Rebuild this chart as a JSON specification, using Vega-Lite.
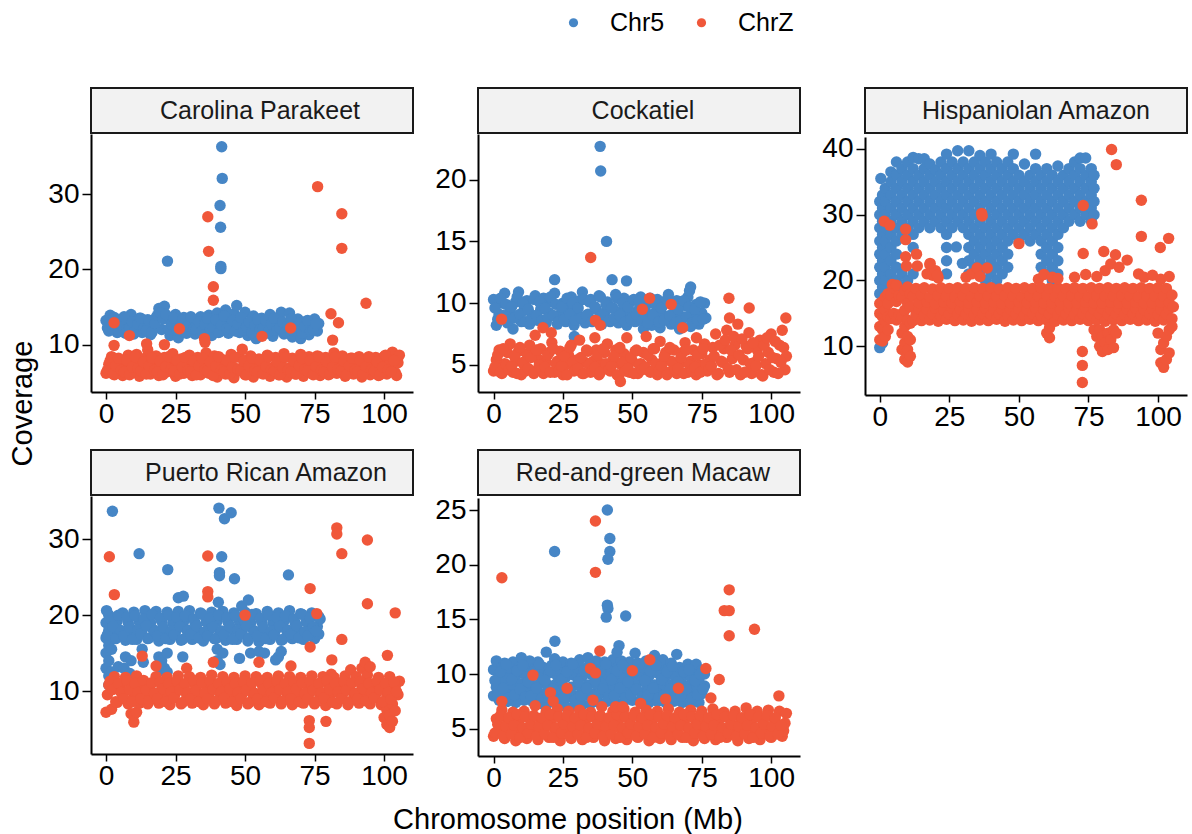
{
"$schema":"https://vega.github.io/schema/vega-lite/v6.json",
"background":"white",
"padding":{"left":8,"top":10,"right":5,"bottom":5},
"config":{
"font":"Liberation Sans",
"view":{"stroke":null},
"circle":{"size":130,"opacity":1},
"range":{"category":["#4686c6","#f0573a"]},
"axis":{"grid":false,"domainColor":"black","domainWidth":2,"tickColor":"black","tickWidth":1.5,"labelColor":"black","labelFontSize":28,"labelFont":"Liberation Sans"},
"axisX":{"tickSize":7,"labelPadding":1},
"axisY":{"tickSize":9,"labelPadding":3},
"title":{"fontWeight":"normal","fontSize":29,"color":"black","font":"Liberation Sans"},
"legend":{"orient":"none","legendX":470,"legendY":-78,"direction":"horizontal","labelFontSize":25,"labelColor":"black","symbolType":"circle","symbolSize":85,"symbolStrokeWidth":0,"labelOffset":24,"columnPadding":24}
},
"datasets":{
"strips":[{"id":"CP","name":"Carolina Parakeet"},{"id":"CK","name":"Cockatiel"},{"id":"HA","name":"Hispaniolan Amazon"},{"id":"PR","name":"Puerto Rican Amazon"},{"id":"MC","name":"Red-and-green Macaw"}],
"CP5":[{"x":0,"y":13.2},{"x":0.5,"y":12.2},{"x":1,"y":11.8},{"x":1.5,"y":13.9},{"x":2,"y":12.6},{"x":3,"y":13.6},{"x":4,"y":11.6},{"x":5,"y":12.5},{"x":6,"y":13.4},{"x":7,"y":11.5},{"x":8,"y":12.8},{"x":9,"y":14.0},{"x":10,"y":11.4},{"x":11,"y":12.4},{"x":12,"y":13.5},{"x":13,"y":11.6},{"x":14,"y":12.7},{"x":15,"y":13.3},{"x":16,"y":11.3},{"x":17,"y":12.4},{"x":18,"y":13.6},{"x":19,"y":14.8},{"x":20,"y":12.0},{"x":21,"y":15.1},{"x":22,"y":13.5},{"x":23,"y":11.2},{"x":24,"y":12.6},{"x":25,"y":14.0},{"x":26,"y":10.9},{"x":27,"y":12.3},{"x":28,"y":13.6},{"x":29,"y":11.5},{"x":30,"y":12.7},{"x":31,"y":13.3},{"x":32,"y":11.4},{"x":33,"y":12.4},{"x":34,"y":13.7},{"x":35,"y":11.8},{"x":36,"y":12.9},{"x":37,"y":13.9},{"x":38,"y":11.2},{"x":39,"y":12.6},{"x":40,"y":14.2},{"x":41,"y":11.7},{"x":42,"y":13.0},{"x":43,"y":14.6},{"x":44,"y":11.5},{"x":45,"y":12.8},{"x":46,"y":14.1},{"x":47,"y":15.2},{"x":48,"y":11.6},{"x":49,"y":13.0},{"x":50,"y":14.3},{"x":51,"y":11.2},{"x":52,"y":12.5},{"x":53,"y":13.8},{"x":54,"y":10.8},{"x":55,"y":12.2},{"x":56,"y":13.5},{"x":57,"y":11.4},{"x":58,"y":12.6},{"x":59,"y":14.0},{"x":60,"y":11.1},{"x":61,"y":12.3},{"x":62,"y":13.6},{"x":63,"y":14.3},{"x":64,"y":11.4},{"x":65,"y":12.8},{"x":66,"y":14.2},{"x":67,"y":11.0},{"x":68,"y":12.2},{"x":69,"y":13.4},{"x":70,"y":10.8},{"x":71,"y":11.9},{"x":72,"y":13.1},{"x":73,"y":11.3},{"x":74,"y":12.4},{"x":75,"y":13.4},{"x":76,"y":11.8},{"x":76.5,"y":12.8},{"x":2.5,"y":12.1},{"x":3.5,"y":13.1},{"x":4.5,"y":11.7},{"x":5.5,"y":12.6},{"x":6.5,"y":13.7},{"x":7.5,"y":12.0},{"x":8.5,"y":12.2},{"x":9.5,"y":13.0},{"x":10.5,"y":11.8},{"x":11.5,"y":12.7},{"x":12.5,"y":13.5},{"x":13.5,"y":12.1},{"x":14.5,"y":11.9},{"x":15.5,"y":13.2},{"x":16.5,"y":11.6},{"x":17.5,"y":12.8},{"x":18.5,"y":13.9},{"x":19.5,"y":14.2},{"x":20.5,"y":13.4},{"x":21.5,"y":14.0},{"x":22.5,"y":12.0},{"x":23.5,"y":12.7},{"x":24.5,"y":13.5},{"x":25.5,"y":11.9},{"x":26.5,"y":12.2},{"x":27.5,"y":13.2},{"x":28.5,"y":11.6},{"x":29.5,"y":12.5},{"x":30.5,"y":13.7},{"x":31.5,"y":12.1},{"x":32.5,"y":12.0},{"x":33.5,"y":13.0},{"x":34.5,"y":11.8},{"x":35.5,"y":12.7},{"x":36.5,"y":13.5},{"x":37.5,"y":12.0},{"x":38.5,"y":12.3},{"x":39.5,"y":13.3},{"x":40.5,"y":11.6},{"x":41.5,"y":12.6},{"x":42.5,"y":13.8},{"x":43.5,"y":12.1},{"x":44.5,"y":12.2},{"x":45.5,"y":13.2},{"x":46.5,"y":11.8},{"x":47.5,"y":12.7},{"x":48.5,"y":13.6},{"x":49.5,"y":11.9},{"x":50.5,"y":12.3},{"x":51.5,"y":13.0},{"x":52.5,"y":11.6},{"x":53.5,"y":12.5},{"x":54.5,"y":13.4},{"x":55.5,"y":12.0},{"x":56.5,"y":12.1},{"x":57.5,"y":13.2},{"x":58.5,"y":11.7},{"x":59.5,"y":12.7},{"x":60.5,"y":13.5},{"x":61.5,"y":11.9},{"x":62.5,"y":12.2},{"x":63.5,"y":13.0},{"x":64.5,"y":11.7},{"x":65.5,"y":12.6},{"x":66.5,"y":13.4},{"x":67.5,"y":11.8},{"x":68.5,"y":11.9},{"x":69.5,"y":12.8},{"x":70.5,"y":11.5},{"x":71.5,"y":12.4},{"x":72.5,"y":13.2},{"x":73.5,"y":11.8},{"x":74.5,"y":11.9},{"x":75.5,"y":12.8},{"x":22.1,"y":21.1},{"x":41.0,"y":28.5},{"x":41.2,"y":25.6},{"x":41.3,"y":20.4},{"x":41.3,"y":20.1},{"x":41.8,"y":32.1},{"x":41.6,"y":36.3}],
"CPZ":[{"x":0,"y":6.2},{"x":1,"y":7.4},{"x":2,"y":8.4},{"x":3,"y":6.0},{"x":4,"y":6.9},{"x":5,"y":7.9},{"x":6,"y":5.9},{"x":7,"y":7.2},{"x":8,"y":8.6},{"x":9,"y":6.3},{"x":10,"y":7.5},{"x":11,"y":8.7},{"x":12,"y":5.8},{"x":13,"y":6.9},{"x":14,"y":8.2},{"x":15,"y":9.3},{"x":16,"y":6.1},{"x":17,"y":7.3},{"x":18,"y":8.5},{"x":19,"y":5.9},{"x":20,"y":7.0},{"x":21,"y":8.3},{"x":22,"y":6.4},{"x":23,"y":7.6},{"x":24,"y":8.8},{"x":25,"y":5.8},{"x":26,"y":6.9},{"x":27,"y":8.1},{"x":28,"y":6.2},{"x":29,"y":7.4},{"x":30,"y":8.6},{"x":31,"y":5.9},{"x":32,"y":7.1},{"x":33,"y":8.3},{"x":34,"y":6.0},{"x":35,"y":7.4},{"x":36,"y":8.9},{"x":37,"y":6.2},{"x":38,"y":7.3},{"x":39,"y":8.5},{"x":40,"y":5.7},{"x":41,"y":6.8},{"x":42,"y":8.0},{"x":43,"y":6.1},{"x":44,"y":7.5},{"x":45,"y":8.7},{"x":46,"y":5.6},{"x":47,"y":6.8},{"x":48,"y":8.4},{"x":49,"y":9.4},{"x":50,"y":6.0},{"x":51,"y":7.2},{"x":52,"y":8.5},{"x":53,"y":5.7},{"x":54,"y":6.9},{"x":55,"y":8.1},{"x":56,"y":6.2},{"x":57,"y":7.4},{"x":58,"y":8.6},{"x":59,"y":5.8},{"x":60,"y":7.0},{"x":61,"y":8.3},{"x":62,"y":6.0},{"x":63,"y":7.3},{"x":64,"y":8.8},{"x":65,"y":5.7},{"x":66,"y":6.9},{"x":67,"y":8.2},{"x":68,"y":6.1},{"x":69,"y":7.5},{"x":70,"y":8.7},{"x":71,"y":5.8},{"x":72,"y":7.0},{"x":73,"y":8.4},{"x":74,"y":6.2},{"x":75,"y":7.3},{"x":76,"y":8.5},{"x":77,"y":5.9},{"x":78,"y":7.1},{"x":79,"y":8.3},{"x":80,"y":6.0},{"x":81,"y":7.4},{"x":82,"y":8.9},{"x":83,"y":6.2},{"x":84,"y":7.3},{"x":85,"y":8.5},{"x":86,"y":5.8},{"x":87,"y":6.9},{"x":88,"y":8.2},{"x":89,"y":6.1},{"x":90,"y":7.3},{"x":91,"y":8.4},{"x":92,"y":5.7},{"x":93,"y":6.8},{"x":94,"y":7.9},{"x":95,"y":6.0},{"x":96,"y":7.2},{"x":97,"y":8.3},{"x":98,"y":5.9},{"x":99,"y":7.0},{"x":100,"y":8.4},{"x":101,"y":6.1},{"x":102,"y":7.5},{"x":103,"y":9.0},{"x":104,"y":6.3},{"x":104.5,"y":5.9},{"x":105,"y":7.6},{"x":105.5,"y":8.6},{"x":0.5,"y":6.6},{"x":1.5,"y":7.9},{"x":2.5,"y":6.1},{"x":3.5,"y":7.2},{"x":4.5,"y":8.2},{"x":5.5,"y":6.6},{"x":6.5,"y":6.4},{"x":7.5,"y":7.9},{"x":8.5,"y":6.0},{"x":9.5,"y":7.0},{"x":10.5,"y":8.4},{"x":11.5,"y":6.8},{"x":12.5,"y":6.5},{"x":13.5,"y":7.7},{"x":14.5,"y":6.1},{"x":15.5,"y":7.2},{"x":16.5,"y":8.2},{"x":17.5,"y":6.6},{"x":18.5,"y":6.4},{"x":19.5,"y":7.8},{"x":20.5,"y":6.0},{"x":21.5,"y":7.1},{"x":22.5,"y":8.4},{"x":23.5,"y":6.7},{"x":24.5,"y":6.5},{"x":25.5,"y":7.9},{"x":26.5,"y":6.1},{"x":27.5,"y":7.0},{"x":28.5,"y":8.3},{"x":29.5,"y":6.6},{"x":30.5,"y":6.4},{"x":31.5,"y":7.8},{"x":32.5,"y":6.0},{"x":33.5,"y":7.2},{"x":34.5,"y":8.2},{"x":35.5,"y":6.7},{"x":36.5,"y":6.5},{"x":37.5,"y":7.7},{"x":38.5,"y":5.9},{"x":39.5,"y":7.1},{"x":40.5,"y":8.4},{"x":41.5,"y":6.6},{"x":42.5,"y":6.4},{"x":43.5,"y":7.9},{"x":44.5,"y":6.1},{"x":45.5,"y":7.0},{"x":46.5,"y":8.3},{"x":47.5,"y":6.7},{"x":48.5,"y":6.5},{"x":49.5,"y":7.8},{"x":50.5,"y":6.0},{"x":51.5,"y":7.2},{"x":52.5,"y":8.2},{"x":53.5,"y":6.6},{"x":54.5,"y":6.4},{"x":55.5,"y":7.9},{"x":56.5,"y":6.1},{"x":57.5,"y":7.1},{"x":58.5,"y":8.4},{"x":59.5,"y":6.7},{"x":60.5,"y":6.5},{"x":61.5,"y":7.7},{"x":62.5,"y":6.0},{"x":63.5,"y":7.0},{"x":64.5,"y":8.3},{"x":65.5,"y":6.6},{"x":66.5,"y":6.4},{"x":67.5,"y":7.8},{"x":68.5,"y":6.1},{"x":69.5,"y":7.2},{"x":70.5,"y":8.2},{"x":71.5,"y":6.7},{"x":72.5,"y":6.5},{"x":73.5,"y":7.9},{"x":74.5,"y":6.0},{"x":75.5,"y":7.1},{"x":76.5,"y":8.4},{"x":77.5,"y":6.6},{"x":78.5,"y":6.4},{"x":79.5,"y":7.7},{"x":80.5,"y":6.1},{"x":81.5,"y":7.0},{"x":82.5,"y":8.3},{"x":83.5,"y":6.7},{"x":84.5,"y":6.5},{"x":85.5,"y":7.8},{"x":86.5,"y":6.0},{"x":87.5,"y":7.2},{"x":88.5,"y":8.2},{"x":89.5,"y":6.6},{"x":90.5,"y":6.4},{"x":91.5,"y":7.9},{"x":92.5,"y":6.1},{"x":93.5,"y":7.1},{"x":94.5,"y":8.4},{"x":95.5,"y":6.7},{"x":96.5,"y":6.5},{"x":97.5,"y":7.7},{"x":98.5,"y":6.0},{"x":99.5,"y":7.0},{"x":100.5,"y":8.6},{"x":101.5,"y":6.6},{"x":102.5,"y":6.4},{"x":103.5,"y":7.9},{"x":2.9,"y":12.9},{"x":2.9,"y":9.9},{"x":8.4,"y":11.2},{"x":14.6,"y":10.1},{"x":21.0,"y":10.0},{"x":26.4,"y":12.1},{"x":35.4,"y":10.8},{"x":35.6,"y":10.3},{"x":36.6,"y":27.0},{"x":36.9,"y":22.4},{"x":38.6,"y":17.7},{"x":38.6,"y":15.9},{"x":56.1,"y":11.1},{"x":66.4,"y":12.2},{"x":76.1,"y":31.0},{"x":80.9,"y":14.1},{"x":81.5,"y":10.6},{"x":83.6,"y":12.9},{"x":84.8,"y":27.4},{"x":84.8,"y":22.8},{"x":93.5,"y":15.5}],
"CK5":[{"x":0,"y":10.3},{"x":1,"y":8.2},{"x":2,"y":9.1},{"x":3,"y":10.0},{"x":4,"y":10.8},{"x":5,"y":8.4},{"x":6,"y":9.3},{"x":7,"y":7.9},{"x":8,"y":10.1},{"x":9,"y":10.9},{"x":10,"y":8.5},{"x":11,"y":9.4},{"x":12,"y":10.2},{"x":13,"y":8.3},{"x":14,"y":9.0},{"x":15,"y":10.6},{"x":16,"y":8.6},{"x":17,"y":9.5},{"x":18,"y":10.4},{"x":19,"y":8.4},{"x":20,"y":9.2},{"x":21,"y":10.1},{"x":22,"y":10.8},{"x":23,"y":8.3},{"x":24,"y":9.1},{"x":25,"y":10.0},{"x":26,"y":8.5},{"x":27,"y":9.4},{"x":28,"y":10.5},{"x":29,"y":8.2},{"x":30,"y":9.3},{"x":31,"y":10.2},{"x":32,"y":10.9},{"x":33,"y":8.4},{"x":34,"y":9.1},{"x":35,"y":10.3},{"x":36,"y":8.6},{"x":37,"y":9.5},{"x":38,"y":10.6},{"x":39,"y":8.3},{"x":40,"y":9.2},{"x":41,"y":10.1},{"x":42,"y":8.5},{"x":43,"y":9.6},{"x":44,"y":10.7},{"x":45,"y":8.4},{"x":46,"y":9.3},{"x":47,"y":10.4},{"x":48,"y":8.2},{"x":49,"y":9.0},{"x":50,"y":10.2},{"x":51,"y":8.5},{"x":52,"y":9.4},{"x":53,"y":10.5},{"x":54,"y":7.9},{"x":55,"y":9.1},{"x":56,"y":10.0},{"x":57,"y":8.2},{"x":58,"y":9.2},{"x":59,"y":10.3},{"x":60,"y":8.0},{"x":61,"y":9.0},{"x":62,"y":10.1},{"x":63,"y":10.7},{"x":64,"y":8.3},{"x":65,"y":9.2},{"x":66,"y":10.2},{"x":67,"y":7.9},{"x":68,"y":8.9},{"x":69,"y":9.8},{"x":70,"y":10.5},{"x":71,"y":8.1},{"x":72,"y":9.0},{"x":73,"y":9.9},{"x":74,"y":8.3},{"x":75,"y":9.2},{"x":76,"y":10.0},{"x":76.5,"y":8.8},{"x":0.5,"y":9.6},{"x":1.5,"y":8.7},{"x":2.5,"y":10.4},{"x":3.5,"y":9.0},{"x":4.5,"y":9.9},{"x":5.5,"y":8.6},{"x":6.5,"y":9.7},{"x":7.5,"y":8.8},{"x":8.5,"y":10.5},{"x":9.5,"y":9.1},{"x":10.5,"y":10.0},{"x":11.5,"y":8.5},{"x":12.5,"y":9.5},{"x":13.5,"y":8.7},{"x":14.5,"y":10.3},{"x":15.5,"y":9.0},{"x":16.5,"y":10.1},{"x":17.5,"y":8.6},{"x":18.5,"y":9.6},{"x":19.5,"y":8.8},{"x":20.5,"y":10.5},{"x":21.5,"y":9.0},{"x":22.5,"y":9.9},{"x":23.5,"y":8.5},{"x":24.5,"y":9.7},{"x":25.5,"y":8.7},{"x":26.5,"y":10.4},{"x":27.5,"y":9.1},{"x":28.5,"y":10.0},{"x":29.5,"y":8.6},{"x":30.5,"y":9.6},{"x":31.5,"y":8.8},{"x":32.5,"y":10.3},{"x":33.5,"y":9.0},{"x":34.5,"y":10.1},{"x":35.5,"y":8.5},{"x":36.5,"y":9.7},{"x":37.5,"y":8.7},{"x":38.5,"y":10.5},{"x":39.5,"y":9.1},{"x":40.5,"y":9.9},{"x":41.5,"y":8.6},{"x":42.5,"y":9.6},{"x":43.5,"y":8.8},{"x":44.5,"y":10.4},{"x":45.5,"y":9.0},{"x":46.5,"y":10.0},{"x":47.5,"y":8.5},{"x":48.5,"y":9.7},{"x":49.5,"y":8.7},{"x":50.5,"y":10.3},{"x":51.5,"y":9.1},{"x":52.5,"y":10.1},{"x":53.5,"y":8.6},{"x":54.5,"y":9.5},{"x":55.5,"y":8.4},{"x":56.5,"y":10.4},{"x":57.5,"y":9.0},{"x":58.5,"y":9.9},{"x":59.5,"y":8.5},{"x":60.5,"y":9.6},{"x":61.5,"y":8.6},{"x":62.5,"y":10.3},{"x":63.5,"y":9.0},{"x":64.5,"y":10.0},{"x":65.5,"y":8.4},{"x":66.5,"y":9.5},{"x":67.5,"y":8.6},{"x":68.5,"y":10.2},{"x":69.5,"y":8.9},{"x":70.5,"y":9.7},{"x":71.5,"y":8.4},{"x":72.5,"y":9.5},{"x":73.5,"y":8.6},{"x":74.5,"y":10.1},{"x":75.5,"y":8.7},{"x":38.4,"y":22.7},{"x":38.6,"y":20.7},{"x":40.7,"y":15.0},{"x":22.0,"y":11.9},{"x":42.7,"y":11.9},{"x":47.9,"y":11.8},{"x":71.0,"y":11.3},{"x":70.6,"y":11.0},{"x":29.1,"y":7.3}],
"CKZ":[{"x":0,"y":4.5},{"x":1,"y":5.4},{"x":2,"y":6.2},{"x":3,"y":4.3},{"x":4,"y":5.1},{"x":5,"y":6.0},{"x":6,"y":6.7},{"x":7,"y":4.4},{"x":8,"y":5.3},{"x":9,"y":6.1},{"x":10,"y":4.2},{"x":11,"y":5.0},{"x":12,"y":5.9},{"x":13,"y":6.6},{"x":14,"y":4.5},{"x":15,"y":7.4},{"x":16,"y":5.5},{"x":17,"y":6.3},{"x":18,"y":4.3},{"x":19,"y":5.2},{"x":20,"y":6.0},{"x":21,"y":6.8},{"x":22,"y":4.4},{"x":23,"y":5.3},{"x":24,"y":6.1},{"x":25,"y":4.2},{"x":26,"y":5.0},{"x":27,"y":5.8},{"x":28,"y":6.6},{"x":29,"y":4.5},{"x":30,"y":5.4},{"x":31,"y":7.0},{"x":32,"y":4.3},{"x":33,"y":5.2},{"x":34,"y":6.1},{"x":35,"y":4.4},{"x":36,"y":5.3},{"x":37,"y":6.2},{"x":38,"y":4.2},{"x":39,"y":5.1},{"x":40,"y":6.0},{"x":41,"y":6.7},{"x":42,"y":4.5},{"x":43,"y":5.4},{"x":44,"y":6.2},{"x":45,"y":4.1},{"x":46,"y":5.0},{"x":47,"y":5.9},{"x":48,"y":7.2},{"x":49,"y":4.4},{"x":50,"y":5.3},{"x":51,"y":6.1},{"x":52,"y":4.3},{"x":53,"y":5.1},{"x":54,"y":6.0},{"x":55,"y":7.3},{"x":56,"y":4.5},{"x":57,"y":5.4},{"x":58,"y":6.3},{"x":59,"y":4.2},{"x":60,"y":6.9},{"x":61,"y":5.2},{"x":62,"y":6.0},{"x":63,"y":4.4},{"x":64,"y":5.3},{"x":65,"y":6.2},{"x":66,"y":4.3},{"x":67,"y":5.1},{"x":68,"y":6.0},{"x":69,"y":6.8},{"x":70,"y":4.4},{"x":71,"y":5.3},{"x":72,"y":6.2},{"x":73,"y":4.2},{"x":74,"y":5.0},{"x":75,"y":5.9},{"x":76,"y":6.7},{"x":77,"y":4.5},{"x":78,"y":5.4},{"x":79,"y":6.4},{"x":80,"y":7.5},{"x":81,"y":4.3},{"x":82,"y":5.3},{"x":83,"y":6.3},{"x":84,"y":7.8},{"x":85,"y":4.4},{"x":86,"y":5.5},{"x":87,"y":6.6},{"x":88,"y":8.3},{"x":89,"y":4.2},{"x":90,"y":5.4},{"x":91,"y":6.5},{"x":92,"y":7.6},{"x":93,"y":4.3},{"x":94,"y":5.2},{"x":95,"y":6.2},{"x":96,"y":7.0},{"x":97,"y":4.1},{"x":98,"y":5.1},{"x":99,"y":6.0},{"x":100,"y":7.5},{"x":101,"y":4.4},{"x":102,"y":5.5},{"x":103,"y":6.6},{"x":104,"y":7.8},{"x":104.5,"y":6.4},{"x":105,"y":4.6},{"x":105.5,"y":5.7},{"x":0.5,"y":4.8},{"x":1.5,"y":5.8},{"x":2.5,"y":4.4},{"x":3.5,"y":6.3},{"x":4.5,"y":5.0},{"x":5.5,"y":4.6},{"x":6.5,"y":4.9},{"x":7.5,"y":5.7},{"x":8.5,"y":4.3},{"x":9.5,"y":6.4},{"x":10.5,"y":5.2},{"x":11.5,"y":4.5},{"x":12.5,"y":4.7},{"x":13.5,"y":5.6},{"x":14.5,"y":4.3},{"x":15.5,"y":6.2},{"x":16.5,"y":5.0},{"x":17.5,"y":4.6},{"x":18.5,"y":4.8},{"x":19.5,"y":5.8},{"x":20.5,"y":4.4},{"x":21.5,"y":6.3},{"x":22.5,"y":5.1},{"x":23.5,"y":4.5},{"x":24.5,"y":4.9},{"x":25.5,"y":5.7},{"x":26.5,"y":4.2},{"x":27.5,"y":6.4},{"x":28.5,"y":5.2},{"x":29.5,"y":4.6},{"x":30.5,"y":4.7},{"x":31.5,"y":5.6},{"x":32.5,"y":4.3},{"x":33.5,"y":6.2},{"x":34.5,"y":5.0},{"x":35.5,"y":4.5},{"x":36.5,"y":4.8},{"x":37.5,"y":5.8},{"x":38.5,"y":4.4},{"x":39.5,"y":6.3},{"x":40.5,"y":5.1},{"x":41.5,"y":4.6},{"x":42.5,"y":4.9},{"x":43.5,"y":5.7},{"x":44.5,"y":4.2},{"x":45.5,"y":6.4},{"x":46.5,"y":5.2},{"x":47.5,"y":4.5},{"x":48.5,"y":4.7},{"x":49.5,"y":5.6},{"x":50.5,"y":4.3},{"x":51.5,"y":6.2},{"x":52.5,"y":5.0},{"x":53.5,"y":4.6},{"x":54.5,"y":4.8},{"x":55.5,"y":5.8},{"x":56.5,"y":4.4},{"x":57.5,"y":6.3},{"x":58.5,"y":5.1},{"x":59.5,"y":4.5},{"x":60.5,"y":4.9},{"x":61.5,"y":5.7},{"x":62.5,"y":4.2},{"x":63.5,"y":6.4},{"x":64.5,"y":5.2},{"x":65.5,"y":4.6},{"x":66.5,"y":4.7},{"x":67.5,"y":5.6},{"x":68.5,"y":4.3},{"x":69.5,"y":6.2},{"x":70.5,"y":5.0},{"x":71.5,"y":4.5},{"x":72.5,"y":4.8},{"x":73.5,"y":5.8},{"x":74.5,"y":4.4},{"x":75.5,"y":6.3},{"x":76.5,"y":5.1},{"x":77.5,"y":4.6},{"x":78.5,"y":4.9},{"x":79.5,"y":5.7},{"x":80.5,"y":4.2},{"x":81.5,"y":6.6},{"x":82.5,"y":5.2},{"x":83.5,"y":7.0},{"x":84.5,"y":4.7},{"x":85.5,"y":6.2},{"x":86.5,"y":7.3},{"x":87.5,"y":4.6},{"x":88.5,"y":5.8},{"x":89.5,"y":7.1},{"x":90.5,"y":4.4},{"x":91.5,"y":6.3},{"x":92.5,"y":5.1},{"x":93.5,"y":6.8},{"x":94.5,"y":4.9},{"x":95.5,"y":5.7},{"x":96.5,"y":4.2},{"x":97.5,"y":6.6},{"x":98.5,"y":7.2},{"x":99.5,"y":4.6},{"x":100.5,"y":5.6},{"x":101.5,"y":6.9},{"x":102.5,"y":4.3},{"x":103.5,"y":5.2},{"x":35.0,"y":13.7},{"x":2.9,"y":8.7},{"x":36.7,"y":8.6},{"x":38.4,"y":8.2},{"x":56.2,"y":10.4},{"x":53.6,"y":9.5},{"x":64.0,"y":9.9},{"x":84.8,"y":10.4},{"x":92.1,"y":9.6},{"x":105.3,"y":8.8},{"x":85.0,"y":8.8},{"x":17.8,"y":8.0},{"x":20.8,"y":7.6},{"x":68.1,"y":8.0},{"x":73.1,"y":7.2},{"x":45.7,"y":3.65},{"x":36.5,"y":7.2}],
"HA5":[{"x":0,"y":9.8},{"x":0,"y":18},{"x":0,"y":20},{"x":0,"y":22},{"x":0,"y":24},{"x":0,"y":26},{"x":0,"y":28},{"x":0,"y":30},{"x":0,"y":32},{"x":0.4,"y":35.5},{"x":1,"y":10.5},{"x":1,"y":19},{"x":1,"y":21},{"x":1,"y":23},{"x":1,"y":25},{"x":1,"y":27},{"x":1,"y":29},{"x":1,"y":31},{"x":1,"y":33},{"x":2,"y":18},{"x":2,"y":20},{"x":2,"y":22},{"x":2,"y":24},{"x":2,"y":26},{"x":2,"y":28},{"x":2,"y":30},{"x":2,"y":32},{"x":2,"y":34},{"x":4,"y":19},{"x":4,"y":21},{"x":4,"y":23},{"x":4,"y":25},{"x":4,"y":27},{"x":4,"y":29},{"x":4,"y":31},{"x":4,"y":33},{"x":4,"y":35},{"x":4,"y":36.5},{"x":6,"y":20},{"x":6,"y":22},{"x":6,"y":24},{"x":6,"y":26},{"x":6,"y":28},{"x":6,"y":30},{"x":6,"y":32},{"x":6,"y":34},{"x":6,"y":36},{"x":6,"y":38},{"x":8,"y":19},{"x":8,"y":21},{"x":8,"y":27},{"x":8,"y":29},{"x":8,"y":31},{"x":8,"y":33},{"x":8,"y":35},{"x":8,"y":37},{"x":10,"y":20},{"x":10,"y":28},{"x":10,"y":30},{"x":10,"y":32},{"x":10,"y":34},{"x":10,"y":36},{"x":10,"y":38},{"x":12,"y":21},{"x":12,"y":25},{"x":12,"y":27},{"x":12,"y":29},{"x":12,"y":31},{"x":12,"y":33},{"x":12,"y":35},{"x":12,"y":37},{"x":12,"y":38.7},{"x":14,"y":28},{"x":14,"y":30},{"x":14,"y":32},{"x":14,"y":34},{"x":14,"y":36},{"x":14,"y":38.5},{"x":16,"y":29},{"x":16,"y":31},{"x":16,"y":33},{"x":16,"y":35},{"x":16,"y":37},{"x":16,"y":38.5},{"x":18,"y":28},{"x":18,"y":30},{"x":18,"y":32},{"x":18,"y":34},{"x":18,"y":36},{"x":18,"y":37.7},{"x":20,"y":29},{"x":20,"y":31},{"x":20,"y":33},{"x":20,"y":35},{"x":20,"y":36.8},{"x":22,"y":28},{"x":22,"y":30},{"x":22,"y":32},{"x":22,"y":34},{"x":22,"y":36},{"x":22,"y":38},{"x":24,"y":21},{"x":24,"y":23},{"x":24,"y":25},{"x":24,"y":27},{"x":24,"y":29},{"x":24,"y":31},{"x":24,"y":33},{"x":24,"y":35},{"x":24,"y":37},{"x":24,"y":39.2},{"x":26,"y":28},{"x":26,"y":30},{"x":26,"y":32},{"x":26,"y":34},{"x":26,"y":36},{"x":26,"y":38},{"x":28,"y":29},{"x":28,"y":31},{"x":28,"y":33},{"x":28,"y":35},{"x":28,"y":37},{"x":28,"y":39.7},{"x":30,"y":28},{"x":30,"y":30},{"x":30,"y":32},{"x":30,"y":34},{"x":30,"y":36},{"x":30,"y":38},{"x":32,"y":21},{"x":32,"y":23},{"x":32,"y":25},{"x":32,"y":27},{"x":32,"y":29},{"x":32,"y":31},{"x":32,"y":33},{"x":32,"y":35},{"x":32,"y":37},{"x":32,"y":39.7},{"x":34,"y":22},{"x":34,"y":24},{"x":34,"y":26},{"x":34,"y":28},{"x":34,"y":30},{"x":34,"y":32},{"x":34,"y":34},{"x":34,"y":36},{"x":34,"y":38},{"x":36,"y":21},{"x":36,"y":23},{"x":36,"y":25},{"x":36,"y":27},{"x":36,"y":29},{"x":36,"y":31},{"x":36,"y":33},{"x":36,"y":35},{"x":36,"y":37},{"x":36,"y":39},{"x":38,"y":20},{"x":38,"y":22},{"x":38,"y":24},{"x":38,"y":26},{"x":38,"y":28},{"x":38,"y":30},{"x":38,"y":32},{"x":38,"y":34},{"x":38,"y":36},{"x":38,"y":38},{"x":40,"y":21},{"x":40,"y":23},{"x":40,"y":25},{"x":40,"y":27},{"x":40,"y":29},{"x":40,"y":31},{"x":40,"y":33},{"x":40,"y":35},{"x":40,"y":37},{"x":40,"y":39.2},{"x":42,"y":20},{"x":42,"y":22},{"x":42,"y":24},{"x":42,"y":26},{"x":42,"y":28},{"x":42,"y":30},{"x":42,"y":32},{"x":42,"y":34},{"x":42,"y":36},{"x":42,"y":38},{"x":44,"y":21},{"x":44,"y":23},{"x":44,"y":25},{"x":44,"y":27},{"x":44,"y":29},{"x":44,"y":31},{"x":44,"y":33},{"x":44,"y":35},{"x":44,"y":37},{"x":46,"y":22},{"x":46,"y":24},{"x":46,"y":26},{"x":46,"y":28},{"x":46,"y":30},{"x":46,"y":32},{"x":46,"y":34},{"x":46,"y":36},{"x":46,"y":38},{"x":48,"y":27},{"x":48,"y":29},{"x":48,"y":31},{"x":48,"y":33},{"x":48,"y":35},{"x":48,"y":37},{"x":48,"y":39.2},{"x":50,"y":26},{"x":50,"y":28},{"x":50,"y":30},{"x":50,"y":32},{"x":50,"y":34},{"x":50,"y":36},{"x":52,"y":27},{"x":52,"y":29},{"x":52,"y":31},{"x":52,"y":33},{"x":52,"y":35},{"x":52,"y":37.7},{"x":54,"y":26},{"x":54,"y":28},{"x":54,"y":30},{"x":54,"y":32},{"x":54,"y":34},{"x":54,"y":36},{"x":56,"y":27},{"x":56,"y":29},{"x":56,"y":31},{"x":56,"y":33},{"x":56,"y":35},{"x":56,"y":37},{"x":56,"y":39.2},{"x":58,"y":22},{"x":58,"y":24},{"x":58,"y":26},{"x":58,"y":28},{"x":58,"y":30},{"x":58,"y":32},{"x":58,"y":34},{"x":58,"y":36},{"x":60,"y":21},{"x":60,"y":23},{"x":60,"y":25},{"x":60,"y":27},{"x":60,"y":29},{"x":60,"y":31},{"x":60,"y":33},{"x":60,"y":35},{"x":60,"y":37},{"x":62,"y":20},{"x":62,"y":22},{"x":62,"y":24},{"x":62,"y":26},{"x":62,"y":28},{"x":62,"y":30},{"x":62,"y":32},{"x":62,"y":34},{"x":62,"y":36},{"x":64,"y":21},{"x":64,"y":23},{"x":64,"y":25},{"x":64,"y":27},{"x":64,"y":29},{"x":64,"y":31},{"x":64,"y":33},{"x":64,"y":35},{"x":64,"y":37.4},{"x":66,"y":28},{"x":66,"y":30},{"x":66,"y":32},{"x":66,"y":34},{"x":66,"y":36},{"x":68,"y":29},{"x":68,"y":31},{"x":68,"y":33},{"x":68,"y":35},{"x":68,"y":37},{"x":70,"y":30},{"x":70,"y":32},{"x":70,"y":34},{"x":70,"y":36},{"x":70,"y":38},{"x":72,"y":29},{"x":72,"y":31},{"x":72,"y":33},{"x":72,"y":35},{"x":72,"y":37},{"x":72,"y":38.6},{"x":74,"y":30},{"x":74,"y":32},{"x":74,"y":34},{"x":74,"y":36},{"x":74,"y":38.6},{"x":76,"y":29},{"x":76,"y":31},{"x":76,"y":33},{"x":76,"y":35},{"x":76,"y":37},{"x":77,"y":30},{"x":77,"y":32},{"x":77,"y":34},{"x":77,"y":36},{"x":27.5,"y":25.1},{"x":29.7,"y":22.6}],
"HAZ":[{"x":0,"y":11.0},{"x":0,"y":13.0},{"x":0,"y":15.0},{"x":0,"y":16.5},{"x":1,"y":10.8},{"x":1,"y":12.5},{"x":1,"y":14.5},{"x":1,"y":16.8},{"x":2,"y":11.5},{"x":2,"y":13.8},{"x":2,"y":15.5},{"x":2,"y":17.5},{"x":3,"y":12.5},{"x":3,"y":14.5},{"x":3,"y":16.5},{"x":3,"y":18.0},{"x":4,"y":14.2},{"x":4,"y":17.8},{"x":4.5,"y":19.4},{"x":5,"y":15.0},{"x":5,"y":18.9},{"x":6,"y":14.0},{"x":6,"y":16.8},{"x":6,"y":19.3},{"x":7,"y":14.8},{"x":7,"y":17.7},{"x":8,"y":9.5},{"x":8,"y":12.0},{"x":8,"y":14.5},{"x":8,"y":17.5},{"x":9,"y":8.0},{"x":9,"y":10.5},{"x":9,"y":13.0},{"x":9,"y":15.5},{"x":9,"y":18.5},{"x":10,"y":7.6},{"x":10,"y":9.5},{"x":10,"y":11.5},{"x":10,"y":14.0},{"x":10,"y":16.5},{"x":10,"y":19.0},{"x":11,"y":8.5},{"x":11,"y":11.0},{"x":11,"y":13.5},{"x":11,"y":16.0},{"x":11,"y":18.0},{"x":12,"y":13.9},{"x":12,"y":17.6},{"x":13,"y":14.8},{"x":13,"y":18.8},{"x":14,"y":15.7},{"x":14,"y":16.6},{"x":15,"y":13.9},{"x":15,"y":17.8},{"x":16,"y":14.7},{"x":16,"y":18.9},{"x":17,"y":15.6},{"x":17,"y":16.7},{"x":17,"y":21.0},{"x":18,"y":14.0},{"x":18,"y":17.5},{"x":18,"y":22.4},{"x":19,"y":14.9},{"x":19,"y":18.7},{"x":19,"y":20.8},{"x":20,"y":15.8},{"x":20,"y":16.5},{"x":20,"y":21.5},{"x":21,"y":13.8},{"x":21,"y":17.7},{"x":21,"y":20.4},{"x":22,"y":14.6},{"x":22,"y":18.9},{"x":23,"y":15.5},{"x":23,"y":16.7},{"x":24,"y":14.1},{"x":24,"y":17.6},{"x":25,"y":14.9},{"x":25,"y":18.8},{"x":26,"y":15.8},{"x":26,"y":16.6},{"x":27,"y":13.9},{"x":27,"y":17.5},{"x":28,"y":14.8},{"x":28,"y":18.9},{"x":29,"y":15.6},{"x":29,"y":16.8},{"x":30,"y":14.0},{"x":30,"y":17.7},{"x":31,"y":14.9},{"x":31,"y":18.8},{"x":31,"y":20.5},{"x":32,"y":15.7},{"x":32,"y":16.6},{"x":33,"y":13.8},{"x":33,"y":17.6},{"x":33,"y":21.0},{"x":34,"y":14.7},{"x":34,"y":18.9},{"x":35,"y":15.6},{"x":35,"y":16.7},{"x":35,"y":21.9},{"x":36,"y":14.0},{"x":36,"y":17.6},{"x":36,"y":20.6},{"x":37,"y":14.9},{"x":37,"y":18.8},{"x":38,"y":15.8},{"x":38,"y":16.6},{"x":39,"y":13.9},{"x":39,"y":17.7},{"x":40,"y":14.8},{"x":40,"y":18.9},{"x":41,"y":15.7},{"x":41,"y":16.7},{"x":42,"y":14.1},{"x":42,"y":17.6},{"x":43,"y":14.9},{"x":43,"y":18.7},{"x":44,"y":15.6},{"x":44,"y":16.5},{"x":45,"y":13.8},{"x":45,"y":17.7},{"x":46,"y":14.7},{"x":46,"y":18.9},{"x":47,"y":15.6},{"x":47,"y":16.6},{"x":48,"y":14.0},{"x":48,"y":17.6},{"x":49,"y":14.9},{"x":49,"y":18.8},{"x":50,"y":15.7},{"x":50,"y":16.7},{"x":51,"y":13.9},{"x":51,"y":17.5},{"x":52,"y":14.8},{"x":52,"y":18.9},{"x":53,"y":15.6},{"x":53,"y":16.6},{"x":54,"y":14.1},{"x":54,"y":17.7},{"x":55,"y":14.9},{"x":55,"y":18.8},{"x":56,"y":15.8},{"x":56,"y":16.7},{"x":57,"y":13.9},{"x":57,"y":17.6},{"x":57,"y":20.2},{"x":58,"y":14.7},{"x":58,"y":18.9},{"x":59,"y":15.6},{"x":59,"y":16.6},{"x":59,"y":20.9},{"x":60,"y":12.0},{"x":60,"y":14.0},{"x":60,"y":17.7},{"x":61,"y":11.3},{"x":61,"y":12.8},{"x":61,"y":14.9},{"x":61,"y":18.8},{"x":62,"y":15.7},{"x":62,"y":16.6},{"x":62,"y":20.5},{"x":63,"y":13.8},{"x":63,"y":17.5},{"x":64,"y":14.8},{"x":64,"y":18.9},{"x":64,"y":20.3},{"x":65,"y":15.6},{"x":65,"y":16.7},{"x":66,"y":14.0},{"x":66,"y":17.6},{"x":67,"y":14.9},{"x":67,"y":18.8},{"x":68,"y":15.7},{"x":68,"y":16.6},{"x":69,"y":13.9},{"x":69,"y":17.7},{"x":70,"y":14.8},{"x":70,"y":18.9},{"x":70,"y":20.5},{"x":71,"y":15.6},{"x":71,"y":16.6},{"x":72,"y":14.1},{"x":72,"y":17.6},{"x":73,"y":14.9},{"x":73,"y":18.8},{"x":74,"y":15.8},{"x":74,"y":16.7},{"x":74,"y":20.9},{"x":75,"y":13.9},{"x":75,"y":17.5},{"x":76,"y":14.7},{"x":76,"y":18.9},{"x":77,"y":15.6},{"x":77,"y":16.6},{"x":77,"y":12.5},{"x":78,"y":14.0},{"x":78,"y":17.7},{"x":78,"y":11.5},{"x":78,"y":20.6},{"x":79,"y":14.9},{"x":79,"y":18.8},{"x":79,"y":10.0},{"x":79,"y":12.5},{"x":80,"y":15.7},{"x":80,"y":16.6},{"x":80,"y":9.2},{"x":80,"y":11.5},{"x":81,"y":13.8},{"x":81,"y":17.6},{"x":81,"y":10.5},{"x":81,"y":21.5},{"x":82,"y":14.8},{"x":82,"y":18.9},{"x":82,"y":9.5},{"x":82,"y":12.0},{"x":83,"y":15.6},{"x":83,"y":16.7},{"x":83,"y":11.0},{"x":83,"y":22.5},{"x":84,"y":14.0},{"x":84,"y":17.6},{"x":84,"y":9.8},{"x":84,"y":12.5},{"x":85,"y":14.9},{"x":85,"y":18.8},{"x":85,"y":12.0},{"x":86,"y":15.7},{"x":86,"y":16.6},{"x":86,"y":22.0},{"x":87,"y":13.9},{"x":87,"y":17.7},{"x":88,"y":14.8},{"x":88,"y":18.9},{"x":89,"y":15.6},{"x":89,"y":16.6},{"x":90,"y":14.1},{"x":90,"y":17.6},{"x":91,"y":14.9},{"x":91,"y":18.8},{"x":92,"y":15.8},{"x":92,"y":16.7},{"x":93,"y":13.9},{"x":93,"y":17.5},{"x":93,"y":21.0},{"x":94,"y":14.7},{"x":94,"y":18.9},{"x":95,"y":15.6},{"x":95,"y":16.6},{"x":95,"y":20.5},{"x":96,"y":14.0},{"x":96,"y":17.7},{"x":97,"y":14.9},{"x":97,"y":18.8},{"x":98,"y":15.7},{"x":98,"y":16.6},{"x":98,"y":20.8},{"x":99,"y":13.8},{"x":99,"y":17.6},{"x":100,"y":14.8},{"x":100,"y":18.9},{"x":100,"y":12.0},{"x":101,"y":15.6},{"x":101,"y":16.7},{"x":101,"y":9.5},{"x":101,"y":7.5},{"x":101,"y":20.2},{"x":102,"y":14.0},{"x":102,"y":17.6},{"x":102,"y":6.8},{"x":102,"y":10.5},{"x":103,"y":14.9},{"x":103,"y":18.8},{"x":103,"y":8.0},{"x":103,"y":11.5},{"x":104,"y":15.7},{"x":104,"y":16.6},{"x":104,"y":12.5},{"x":104,"y":9.0},{"x":104,"y":20.6},{"x":105,"y":14.2},{"x":105,"y":17.8},{"x":105,"y":13.0},{"x":105.5,"y":16.0},{"x":80.5,"y":24.4},{"x":84.7,"y":23.9},{"x":88.9,"y":23.1},{"x":83.3,"y":39.9},{"x":85.0,"y":37.6},{"x":94.0,"y":32.2},{"x":94.0,"y":26.7},{"x":100.8,"y":25.0},{"x":103.8,"y":26.4},{"x":73.1,"y":31.4},{"x":76.3,"y":28.6},{"x":73.1,"y":24.1},{"x":72.8,"y":9.2},{"x":72.8,"y":7.1},{"x":72.8,"y":4.5},{"x":36.8,"y":29.8},{"x":36.6,"y":30.2},{"x":50.0,"y":25.6},{"x":38.6,"y":21.9},{"x":1.6,"y":29.0},{"x":3.6,"y":28.4},{"x":9.3,"y":27.8},{"x":9.3,"y":26.2},{"x":9.3,"y":23.6},{"x":9.6,"y":22.2},{"x":13.2,"y":24.0},{"x":13.5,"y":22.2},{"x":18.1,"y":22.6},{"x":20.7,"y":20.8}],
"PR5":[{"x":0,"y":13.0},{"x":0,"y":15.0},{"x":0,"y":17.0},{"x":0,"y":19.0},{"x":1,"y":10.8},{"x":1,"y":12.0},{"x":1,"y":14.0},{"x":1,"y":16.0},{"x":1,"y":18.0},{"x":1,"y":20.0},{"x":2,"y":12.5},{"x":2,"y":15.5},{"x":2,"y":17.5},{"x":2,"y":19.5},{"x":3,"y":17.0},{"x":4,"y":19.2},{"x":4.4,"y":13.2},{"x":5,"y":18.0},{"x":6,"y":20.3},{"x":6.5,"y":13.0},{"x":7,"y":16.7},{"x":7,"y":14.5},{"x":8,"y":19.0},{"x":8.6,"y":12.3},{"x":9,"y":17.9},{"x":9,"y":14.0},{"x":10,"y":20.4},{"x":11,"y":16.8},{"x":12,"y":19.1},{"x":13,"y":18.0},{"x":13.4,"y":13.8},{"x":13,"y":15.5},{"x":14,"y":20.6},{"x":15,"y":16.9},{"x":16,"y":19.0},{"x":17,"y":18.1},{"x":18,"y":20.5},{"x":19,"y":16.6},{"x":19,"y":14.5},{"x":20,"y":19.2},{"x":20,"y":12.7},{"x":20,"y":14.0},{"x":21,"y":17.9},{"x":21,"y":13.0},{"x":22,"y":20.4},{"x":22,"y":12.5},{"x":22,"y":15.0},{"x":23,"y":16.8},{"x":24,"y":19.0},{"x":25,"y":17.8},{"x":26,"y":20.5},{"x":27,"y":16.7},{"x":27.6,"y":14.5},{"x":28,"y":19.2},{"x":29,"y":18.0},{"x":30,"y":20.6},{"x":31,"y":16.8},{"x":32,"y":19.0},{"x":33,"y":17.9},{"x":34,"y":20.3},{"x":35,"y":16.6},{"x":36,"y":19.1},{"x":37,"y":18.0},{"x":38,"y":20.4},{"x":39,"y":16.9},{"x":40,"y":19.2},{"x":40,"y":14.0},{"x":40,"y":15.5},{"x":41,"y":17.8},{"x":41,"y":13.5},{"x":42,"y":20.5},{"x":42,"y":15.0},{"x":43,"y":16.7},{"x":44,"y":19.0},{"x":45,"y":18.1},{"x":46,"y":20.3},{"x":47,"y":16.8},{"x":48,"y":19.1},{"x":48,"y":14.3},{"x":49,"y":17.9},{"x":50,"y":20.4},{"x":51,"y":16.6},{"x":52,"y":19.0},{"x":52,"y":15.0},{"x":53,"y":18.0},{"x":54,"y":20.2},{"x":55,"y":16.5},{"x":55,"y":15.2},{"x":56,"y":19.1},{"x":57,"y":17.8},{"x":57,"y":15.0},{"x":58,"y":20.5},{"x":59,"y":16.8},{"x":60,"y":19.0},{"x":61,"y":18.0},{"x":61,"y":14.1},{"x":62,"y":20.3},{"x":62,"y":14.5},{"x":63,"y":16.7},{"x":63,"y":15.2},{"x":64,"y":19.2},{"x":65,"y":17.9},{"x":66,"y":20.6},{"x":67,"y":16.9},{"x":68,"y":19.0},{"x":69,"y":18.1},{"x":70,"y":20.2},{"x":71,"y":16.8},{"x":72,"y":19.1},{"x":73,"y":17.9},{"x":74,"y":20.3},{"x":75,"y":16.9},{"x":76,"y":18.5},{"x":76.5,"y":17.5},{"x":77,"y":19.5},{"x":0.5,"y":17.4},{"x":1.5,"y":19.6},{"x":2.5,"y":18.5},{"x":3.5,"y":16.9},{"x":4.5,"y":20.0},{"x":5.5,"y":17.9},{"x":6.5,"y":17.3},{"x":7.5,"y":19.7},{"x":8.5,"y":18.4},{"x":9.5,"y":16.8},{"x":10.5,"y":19.9},{"x":11.5,"y":18.0},{"x":12.5,"y":17.5},{"x":13.5,"y":19.5},{"x":14.5,"y":18.6},{"x":15.5,"y":17.0},{"x":16.5,"y":20.1},{"x":17.5,"y":17.8},{"x":18.5,"y":17.3},{"x":19.5,"y":19.6},{"x":20.5,"y":18.4},{"x":21.5,"y":16.9},{"x":22.5,"y":20.0},{"x":23.5,"y":17.9},{"x":24.5,"y":17.4},{"x":25.5,"y":19.7},{"x":26.5,"y":18.5},{"x":27.5,"y":16.8},{"x":28.5,"y":19.9},{"x":29.5,"y":18.0},{"x":30.5,"y":17.5},{"x":31.5,"y":19.5},{"x":32.5,"y":18.6},{"x":33.5,"y":17.0},{"x":34.5,"y":20.1},{"x":35.5,"y":17.8},{"x":36.5,"y":17.3},{"x":37.5,"y":19.6},{"x":38.5,"y":18.4},{"x":39.5,"y":16.9},{"x":40.5,"y":20.0},{"x":41.5,"y":17.9},{"x":42.5,"y":17.4},{"x":43.5,"y":19.7},{"x":44.5,"y":18.5},{"x":45.5,"y":16.8},{"x":46.5,"y":19.9},{"x":47.5,"y":18.0},{"x":48.5,"y":17.5},{"x":49.5,"y":19.5},{"x":50.5,"y":18.6},{"x":51.5,"y":17.0},{"x":52.5,"y":20.1},{"x":53.5,"y":17.8},{"x":54.5,"y":17.3},{"x":55.5,"y":19.6},{"x":56.5,"y":18.4},{"x":57.5,"y":16.9},{"x":58.5,"y":20.0},{"x":59.5,"y":17.9},{"x":60.5,"y":17.4},{"x":61.5,"y":19.7},{"x":62.5,"y":18.5},{"x":63.5,"y":16.8},{"x":64.5,"y":19.9},{"x":65.5,"y":18.0},{"x":66.5,"y":17.5},{"x":67.5,"y":19.5},{"x":68.5,"y":18.6},{"x":69.5,"y":17.0},{"x":70.5,"y":20.1},{"x":71.5,"y":17.8},{"x":72.5,"y":17.3},{"x":73.5,"y":19.6},{"x":74.5,"y":18.4},{"x":75.5,"y":17.9},{"x":76.5,"y":19.8},{"x":2.3,"y":33.7},{"x":11.9,"y":28.1},{"x":22.2,"y":26.0},{"x":40.6,"y":34.1},{"x":42.6,"y":32.7},{"x":45.0,"y":33.5},{"x":41.6,"y":27.7},{"x":40.8,"y":25.6},{"x":40.8,"y":25.2},{"x":46.2,"y":24.8},{"x":65.6,"y":25.3},{"x":0.2,"y":20.6},{"x":26.0,"y":22.3},{"x":27.8,"y":22.5},{"x":40.4,"y":21.7},{"x":51.2,"y":22.0},{"x":48.8,"y":21.2}],
"PRZ":[{"x":0,"y":7.2},{"x":0.5,"y":9.5},{"x":1,"y":10.8},{"x":2,"y":7.6},{"x":3,"y":11.9},{"x":4,"y":8.5},{"x":5,"y":10.7},{"x":6,"y":9.5},{"x":7,"y":11.8},{"x":8,"y":8.3},{"x":9,"y":10.9},{"x":9,"y":7.0},{"x":10,"y":9.6},{"x":10,"y":5.9},{"x":10,"y":6.8},{"x":11,"y":12.0},{"x":11,"y":7.2},{"x":12,"y":8.4},{"x":13,"y":10.6},{"x":13,"y":14.6},{"x":14,"y":9.5},{"x":15,"y":8.3},{"x":16,"y":10.8},{"x":17,"y":9.6},{"x":18,"y":11.9},{"x":18,"y":13.3},{"x":19,"y":8.4},{"x":20,"y":10.7},{"x":21,"y":9.4},{"x":22,"y":11.8},{"x":23,"y":8.2},{"x":24,"y":10.9},{"x":25,"y":9.7},{"x":26,"y":12.0},{"x":27,"y":8.3},{"x":28,"y":10.6},{"x":29,"y":9.5},{"x":29,"y":13.0},{"x":30,"y":11.9},{"x":31,"y":8.4},{"x":32,"y":10.8},{"x":33,"y":9.6},{"x":34,"y":11.8},{"x":35,"y":8.2},{"x":36,"y":10.7},{"x":37,"y":9.5},{"x":38,"y":12.1},{"x":38.6,"y":13.8},{"x":39,"y":8.3},{"x":40,"y":10.9},{"x":41,"y":9.7},{"x":42,"y":11.9},{"x":43,"y":8.4},{"x":44,"y":10.6},{"x":45,"y":9.5},{"x":46,"y":11.8},{"x":47,"y":8.1},{"x":48,"y":10.8},{"x":49,"y":9.6},{"x":50,"y":12.0},{"x":51,"y":8.3},{"x":52,"y":10.7},{"x":53,"y":9.4},{"x":54,"y":11.9},{"x":55,"y":8.2},{"x":56,"y":10.9},{"x":57,"y":9.6},{"x":58,"y":11.8},{"x":59,"y":8.4},{"x":60,"y":10.6},{"x":61,"y":9.5},{"x":62,"y":12.0},{"x":63,"y":8.3},{"x":64,"y":10.8},{"x":65,"y":9.7},{"x":66,"y":11.9},{"x":66.5,"y":13.3},{"x":67,"y":8.2},{"x":68,"y":10.7},{"x":69,"y":9.5},{"x":70,"y":11.8},{"x":71,"y":8.4},{"x":72,"y":10.9},{"x":73,"y":9.6},{"x":74,"y":12.0},{"x":75,"y":8.3},{"x":76,"y":10.6},{"x":77,"y":9.4},{"x":78,"y":11.9},{"x":79,"y":8.1},{"x":80,"y":10.8},{"x":81,"y":9.6},{"x":81,"y":12.2},{"x":81.2,"y":14.1},{"x":82,"y":11.8},{"x":83,"y":8.3},{"x":84,"y":10.7},{"x":85,"y":9.5},{"x":86,"y":12.0},{"x":87,"y":8.2},{"x":88,"y":10.9},{"x":88,"y":12.8},{"x":89,"y":9.7},{"x":90,"y":11.9},{"x":91,"y":8.4},{"x":92,"y":10.6},{"x":92,"y":13.0},{"x":93,"y":9.5},{"x":93.2,"y":13.8},{"x":94,"y":12.1},{"x":95,"y":8.3},{"x":95,"y":13.2},{"x":96,"y":10.8},{"x":97,"y":9.6},{"x":98,"y":11.8},{"x":99,"y":8.2},{"x":100,"y":10.7},{"x":100,"y":6.5},{"x":101,"y":9.4},{"x":101,"y":5.6},{"x":101,"y":7.5},{"x":102,"y":11.9},{"x":102,"y":5.2},{"x":102,"y":6.8},{"x":103,"y":8.3},{"x":103,"y":6.0},{"x":104,"y":10.6},{"x":104,"y":7.4},{"x":105,"y":9.5},{"x":105.5,"y":11.3},{"x":1.5,"y":11.3},{"x":2.5,"y":10.2},{"x":3.5,"y":8.6},{"x":4.5,"y":11.0},{"x":5.5,"y":9.8},{"x":6.5,"y":9.0},{"x":7.5,"y":11.3},{"x":8.5,"y":10.2},{"x":9.5,"y":8.6},{"x":10.5,"y":11.0},{"x":11.5,"y":9.8},{"x":12.5,"y":9.0},{"x":13.5,"y":11.4},{"x":14.5,"y":10.1},{"x":15.5,"y":8.7},{"x":16.5,"y":11.1},{"x":17.5,"y":9.7},{"x":18.5,"y":9.0},{"x":19.5,"y":11.2},{"x":20.5,"y":10.3},{"x":21.5,"y":8.6},{"x":22.5,"y":11.0},{"x":23.5,"y":9.9},{"x":24.5,"y":9.1},{"x":25.5,"y":11.3},{"x":26.5,"y":10.2},{"x":27.5,"y":8.5},{"x":28.5,"y":11.0},{"x":29.5,"y":9.8},{"x":30.5,"y":9.0},{"x":31.5,"y":11.4},{"x":32.5,"y":10.1},{"x":33.5,"y":8.6},{"x":34.5,"y":11.1},{"x":35.5,"y":9.7},{"x":36.5,"y":9.0},{"x":37.5,"y":11.3},{"x":38.5,"y":10.2},{"x":39.5,"y":8.7},{"x":40.5,"y":11.0},{"x":41.5,"y":9.9},{"x":42.5,"y":9.1},{"x":43.5,"y":11.2},{"x":44.5,"y":10.3},{"x":45.5,"y":8.6},{"x":46.5,"y":11.0},{"x":47.5,"y":9.8},{"x":48.5,"y":9.0},{"x":49.5,"y":11.3},{"x":50.5,"y":10.1},{"x":51.5,"y":8.5},{"x":52.5,"y":11.1},{"x":53.5,"y":9.7},{"x":54.5,"y":9.0},{"x":55.5,"y":11.4},{"x":56.5,"y":10.2},{"x":57.5,"y":8.6},{"x":58.5,"y":11.0},{"x":59.5,"y":9.8},{"x":60.5,"y":9.1},{"x":61.5,"y":11.3},{"x":62.5,"y":10.2},{"x":63.5,"y":8.7},{"x":64.5,"y":11.0},{"x":65.5,"y":9.9},{"x":66.5,"y":9.0},{"x":67.5,"y":11.2},{"x":68.5,"y":10.3},{"x":69.5,"y":8.6},{"x":70.5,"y":11.1},{"x":71.5,"y":9.7},{"x":72.5,"y":9.0},{"x":73.5,"y":11.3},{"x":74.5,"y":10.1},{"x":75.5,"y":8.6},{"x":76.5,"y":11.0},{"x":77.5,"y":9.8},{"x":78.5,"y":9.1},{"x":79.5,"y":11.4},{"x":80.5,"y":10.2},{"x":81.5,"y":8.5},{"x":82.5,"y":11.0},{"x":83.5,"y":9.9},{"x":84.5,"y":9.0},{"x":85.5,"y":11.3},{"x":86.5,"y":10.1},{"x":87.5,"y":8.6},{"x":88.5,"y":11.1},{"x":89.5,"y":9.7},{"x":90.5,"y":9.0},{"x":91.5,"y":11.2},{"x":92.5,"y":10.3},{"x":93.5,"y":8.7},{"x":94.5,"y":11.0},{"x":95.5,"y":9.8},{"x":96.5,"y":9.1},{"x":97.5,"y":11.3},{"x":98.5,"y":10.2},{"x":99.5,"y":8.6},{"x":100.5,"y":11.0},{"x":101.5,"y":9.8},{"x":102.5,"y":8.9},{"x":103.5,"y":11.2},{"x":104.5,"y":9.9},{"x":1.2,"y":27.7},{"x":3.0,"y":22.7},{"x":36.6,"y":27.8},{"x":36.6,"y":23.1},{"x":36.6,"y":22.4},{"x":50.0,"y":20.0},{"x":73.4,"y":23.5},{"x":73.4,"y":15.8},{"x":75.8,"y":20.2},{"x":83.0,"y":31.5},{"x":83.0,"y":30.7},{"x":84.8,"y":28.1},{"x":84.8,"y":16.8},{"x":94.0,"y":29.9},{"x":94.0,"y":21.5},{"x":104.0,"y":20.3},{"x":101.2,"y":14.7},{"x":55.0,"y":13.8},{"x":73.1,"y":6.1},{"x":73.1,"y":5.2},{"x":73.1,"y":3.1},{"x":79.1,"y":6.0}],
"MC5":[{"x":0,"y":8.0},{"x":0,"y":10.4},{"x":1,"y":8.8},{"x":1,"y":11.2},{"x":2,"y":7.6},{"x":2,"y":9.7},{"x":3,"y":8.4},{"x":3,"y":10.6},{"x":4,"y":9.2},{"x":4,"y":11.0},{"x":5,"y":7.5},{"x":5,"y":9.9},{"x":6,"y":8.3},{"x":6,"y":10.5},{"x":7,"y":9.0},{"x":7,"y":11.1},{"x":8,"y":7.4},{"x":8,"y":9.8},{"x":9,"y":8.2},{"x":9,"y":10.6},{"x":10,"y":9.1},{"x":10,"y":11.5},{"x":11,"y":7.6},{"x":11,"y":10.0},{"x":12,"y":8.4},{"x":12,"y":10.7},{"x":13,"y":9.2},{"x":13,"y":11.2},{"x":14,"y":7.5},{"x":14,"y":9.9},{"x":15,"y":8.3},{"x":15,"y":10.5},{"x":16,"y":9.0},{"x":16,"y":11.1},{"x":17,"y":7.3},{"x":17,"y":9.8},{"x":18,"y":8.2},{"x":18,"y":10.6},{"x":19,"y":9.1},{"x":19,"y":12.0},{"x":20,"y":7.4},{"x":20,"y":10.1},{"x":21,"y":8.3},{"x":21,"y":10.8},{"x":22,"y":9.0},{"x":22,"y":11.4},{"x":23,"y":7.2},{"x":23,"y":9.8},{"x":24,"y":8.1},{"x":24,"y":10.5},{"x":25,"y":8.9},{"x":25,"y":11.1},{"x":26,"y":7.0},{"x":26,"y":9.7},{"x":27,"y":7.9},{"x":27,"y":10.4},{"x":28,"y":8.8},{"x":28,"y":11.0},{"x":29,"y":7.1},{"x":29,"y":9.9},{"x":30,"y":8.0},{"x":30,"y":10.6},{"x":31,"y":8.9},{"x":31,"y":11.3},{"x":32,"y":7.2},{"x":32,"y":9.8},{"x":33,"y":8.1},{"x":33,"y":10.5},{"x":34,"y":9.0},{"x":34,"y":11.5},{"x":35,"y":7.3},{"x":35,"y":10.0},{"x":36,"y":8.2},{"x":36,"y":10.7},{"x":37,"y":9.1},{"x":37,"y":11.2},{"x":38,"y":7.4},{"x":38,"y":9.8},{"x":39,"y":8.3},{"x":39,"y":10.5},{"x":40,"y":9.2},{"x":40,"y":11.1},{"x":41,"y":7.5},{"x":41,"y":10.0},{"x":42,"y":8.4},{"x":42,"y":10.7},{"x":43,"y":9.0},{"x":43,"y":11.3},{"x":44,"y":7.4},{"x":44,"y":9.9},{"x":45,"y":8.3},{"x":45,"y":10.6},{"x":46,"y":9.1},{"x":46,"y":11.2},{"x":47,"y":7.5},{"x":47,"y":9.8},{"x":48,"y":8.4},{"x":48,"y":10.5},{"x":49,"y":9.2},{"x":49,"y":11.1},{"x":50,"y":7.6},{"x":50,"y":10.0},{"x":51,"y":8.5},{"x":51,"y":11.9},{"x":52,"y":9.3},{"x":52,"y":11.0},{"x":53,"y":7.5},{"x":53,"y":9.9},{"x":54,"y":8.3},{"x":54,"y":10.6},{"x":55,"y":9.1},{"x":55,"y":11.2},{"x":56,"y":7.4},{"x":56,"y":9.8},{"x":57,"y":8.2},{"x":57,"y":10.5},{"x":58,"y":9.0},{"x":58,"y":11.7},{"x":59,"y":7.5},{"x":59,"y":10.1},{"x":60,"y":8.3},{"x":60,"y":10.8},{"x":61,"y":9.1},{"x":61,"y":11.3},{"x":62,"y":7.4},{"x":62,"y":9.8},{"x":63,"y":8.2},{"x":63,"y":10.5},{"x":64,"y":9.0},{"x":64,"y":11.0},{"x":65,"y":7.5},{"x":65,"y":9.9},{"x":66,"y":8.3},{"x":66,"y":11.8},{"x":67,"y":9.1},{"x":67,"y":10.6},{"x":68,"y":7.4},{"x":68,"y":9.7},{"x":69,"y":8.2},{"x":69,"y":10.4},{"x":70,"y":8.9},{"x":70,"y":10.9},{"x":71,"y":7.3},{"x":71,"y":9.8},{"x":72,"y":8.1},{"x":72,"y":10.5},{"x":73,"y":8.8},{"x":73,"y":10.9},{"x":74,"y":7.4},{"x":74,"y":9.6},{"x":75,"y":8.2},{"x":75,"y":10.3},{"x":76,"y":8.9},{"x":76,"y":10.0},{"x":0.5,"y":9.4},{"x":1.5,"y":8.0},{"x":2.5,"y":10.2},{"x":3.5,"y":8.7},{"x":4.5,"y":10.9},{"x":5.5,"y":7.8},{"x":6.5,"y":9.5},{"x":7.5,"y":8.1},{"x":8.5,"y":10.3},{"x":9.5,"y":8.6},{"x":10.5,"y":10.8},{"x":11.5,"y":7.9},{"x":12.5,"y":9.3},{"x":13.5,"y":8.0},{"x":14.5,"y":10.2},{"x":15.5,"y":8.7},{"x":16.5,"y":10.9},{"x":17.5,"y":7.8},{"x":18.5,"y":9.4},{"x":19.5,"y":8.1},{"x":20.5,"y":10.3},{"x":21.5,"y":8.6},{"x":22.5,"y":10.8},{"x":23.5,"y":7.6},{"x":24.5,"y":9.5},{"x":25.5,"y":7.9},{"x":26.5,"y":10.2},{"x":27.5,"y":8.5},{"x":28.5,"y":10.9},{"x":29.5,"y":7.6},{"x":30.5,"y":9.3},{"x":31.5,"y":8.0},{"x":32.5,"y":10.3},{"x":33.5,"y":8.7},{"x":34.5,"y":10.8},{"x":35.5,"y":7.8},{"x":36.5,"y":9.4},{"x":37.5,"y":8.1},{"x":38.5,"y":10.2},{"x":39.5,"y":8.6},{"x":40.5,"y":10.9},{"x":41.5,"y":7.9},{"x":42.5,"y":9.5},{"x":43.5,"y":8.0},{"x":44.5,"y":10.3},{"x":45.5,"y":8.7},{"x":46.5,"y":10.8},{"x":47.5,"y":7.8},{"x":48.5,"y":9.3},{"x":49.5,"y":8.1},{"x":50.5,"y":10.2},{"x":51.5,"y":8.6},{"x":52.5,"y":10.9},{"x":53.5,"y":7.9},{"x":54.5,"y":9.4},{"x":55.5,"y":8.0},{"x":56.5,"y":10.3},{"x":57.5,"y":8.7},{"x":58.5,"y":10.8},{"x":59.5,"y":7.8},{"x":60.5,"y":9.5},{"x":61.5,"y":8.1},{"x":62.5,"y":10.2},{"x":63.5,"y":8.6},{"x":64.5,"y":10.7},{"x":65.5,"y":7.9},{"x":66.5,"y":9.3},{"x":67.5,"y":8.0},{"x":68.5,"y":10.2},{"x":69.5,"y":8.6},{"x":70.5,"y":10.4},{"x":71.5,"y":7.8},{"x":72.5,"y":9.4},{"x":73.5,"y":8.1},{"x":74.5,"y":10.0},{"x":75.5,"y":8.6},{"x":41.0,"y":25.0},{"x":41.9,"y":22.4},{"x":41.9,"y":21.2},{"x":41.2,"y":20.5},{"x":22.0,"y":21.2},{"x":41.0,"y":16.3},{"x":41.2,"y":16.0},{"x":40.6,"y":15.2},{"x":47.6,"y":15.3},{"x":22.1,"y":13.0},{"x":45.2,"y":12.6},{"x":44.5,"y":12.0}],
"MCZ":[{"x":0,"y":4.3},{"x":1,"y":5.9},{"x":2,"y":5.0},{"x":3,"y":6.7},{"x":4,"y":4.1},{"x":5,"y":5.8},{"x":6,"y":4.9},{"x":7,"y":6.5},{"x":8,"y":3.9},{"x":9,"y":5.6},{"x":10,"y":4.8},{"x":11,"y":6.6},{"x":12,"y":4.1},{"x":13,"y":5.9},{"x":14,"y":5.0},{"x":15,"y":7.1},{"x":16,"y":4.0},{"x":17,"y":5.7},{"x":18,"y":4.8},{"x":19,"y":6.6},{"x":20,"y":4.2},{"x":21,"y":5.9},{"x":22,"y":5.0},{"x":23,"y":6.8},{"x":24,"y":3.9},{"x":25,"y":5.6},{"x":26,"y":4.7},{"x":27,"y":6.6},{"x":28,"y":4.1},{"x":29,"y":5.8},{"x":30,"y":4.9},{"x":31,"y":6.7},{"x":32,"y":4.0},{"x":33,"y":5.7},{"x":34,"y":4.8},{"x":35,"y":6.5},{"x":36,"y":4.2},{"x":37,"y":5.9},{"x":38,"y":5.0},{"x":39,"y":7.0},{"x":40,"y":3.9},{"x":41,"y":5.6},{"x":42,"y":4.7},{"x":43,"y":6.6},{"x":44,"y":4.1},{"x":45,"y":5.8},{"x":46,"y":4.9},{"x":47,"y":6.8},{"x":48,"y":4.0},{"x":49,"y":5.7},{"x":50,"y":4.8},{"x":51,"y":6.5},{"x":52,"y":4.2},{"x":53,"y":5.9},{"x":54,"y":5.0},{"x":55,"y":6.7},{"x":56,"y":3.9},{"x":57,"y":5.6},{"x":58,"y":4.7},{"x":59,"y":6.6},{"x":60,"y":4.1},{"x":61,"y":5.8},{"x":62,"y":4.9},{"x":63,"y":6.8},{"x":64,"y":4.0},{"x":65,"y":5.7},{"x":66,"y":4.8},{"x":67,"y":6.5},{"x":68,"y":4.2},{"x":69,"y":5.9},{"x":70,"y":5.0},{"x":71,"y":6.7},{"x":72,"y":3.9},{"x":73,"y":5.6},{"x":74,"y":4.7},{"x":75,"y":6.6},{"x":76,"y":4.1},{"x":77,"y":5.8},{"x":78,"y":4.9},{"x":79,"y":6.8},{"x":80,"y":4.0},{"x":81,"y":5.7},{"x":82,"y":4.8},{"x":83,"y":6.5},{"x":84,"y":4.2},{"x":85,"y":5.9},{"x":86,"y":5.0},{"x":87,"y":6.6},{"x":88,"y":3.9},{"x":89,"y":5.6},{"x":90,"y":4.7},{"x":91,"y":6.9},{"x":92,"y":4.1},{"x":93,"y":5.8},{"x":94,"y":4.9},{"x":95,"y":6.6},{"x":96,"y":4.0},{"x":97,"y":5.7},{"x":98,"y":4.8},{"x":99,"y":6.7},{"x":100,"y":4.2},{"x":101,"y":5.9},{"x":102,"y":5.0},{"x":103,"y":6.6},{"x":104,"y":4.3},{"x":104.5,"y":4.8},{"x":105,"y":5.5},{"x":105.5,"y":6.4},{"x":0.5,"y":4.6},{"x":1.5,"y":5.4},{"x":2.5,"y":6.2},{"x":3.5,"y":4.3},{"x":4.5,"y":5.2},{"x":5.5,"y":6.0},{"x":6.5,"y":4.5},{"x":7.5,"y":5.3},{"x":8.5,"y":6.3},{"x":9.5,"y":4.2},{"x":10.5,"y":5.1},{"x":11.5,"y":6.1},{"x":12.5,"y":4.6},{"x":13.5,"y":5.4},{"x":14.5,"y":6.2},{"x":15.5,"y":4.3},{"x":16.5,"y":5.2},{"x":17.5,"y":6.0},{"x":18.5,"y":4.5},{"x":19.5,"y":5.3},{"x":20.5,"y":6.3},{"x":21.5,"y":4.2},{"x":22.5,"y":5.1},{"x":23.5,"y":6.1},{"x":24.5,"y":4.6},{"x":25.5,"y":5.4},{"x":26.5,"y":6.2},{"x":27.5,"y":4.3},{"x":28.5,"y":5.2},{"x":29.5,"y":6.0},{"x":30.5,"y":4.5},{"x":31.5,"y":5.3},{"x":32.5,"y":6.3},{"x":33.5,"y":4.2},{"x":34.5,"y":5.1},{"x":35.5,"y":6.1},{"x":36.5,"y":4.6},{"x":37.5,"y":5.4},{"x":38.5,"y":6.2},{"x":39.5,"y":4.3},{"x":40.5,"y":5.2},{"x":41.5,"y":6.0},{"x":42.5,"y":4.5},{"x":43.5,"y":5.3},{"x":44.5,"y":6.3},{"x":45.5,"y":4.2},{"x":46.5,"y":5.1},{"x":47.5,"y":6.1},{"x":48.5,"y":4.6},{"x":49.5,"y":5.4},{"x":50.5,"y":6.2},{"x":51.5,"y":4.3},{"x":52.5,"y":5.2},{"x":53.5,"y":6.0},{"x":54.5,"y":4.5},{"x":55.5,"y":5.3},{"x":56.5,"y":6.3},{"x":57.5,"y":4.2},{"x":58.5,"y":5.1},{"x":59.5,"y":6.1},{"x":60.5,"y":4.6},{"x":61.5,"y":5.4},{"x":62.5,"y":6.2},{"x":63.5,"y":4.3},{"x":64.5,"y":5.2},{"x":65.5,"y":6.0},{"x":66.5,"y":4.5},{"x":67.5,"y":5.3},{"x":68.5,"y":6.3},{"x":69.5,"y":4.2},{"x":70.5,"y":5.1},{"x":71.5,"y":6.1},{"x":72.5,"y":4.6},{"x":73.5,"y":5.4},{"x":74.5,"y":6.2},{"x":75.5,"y":4.3},{"x":76.5,"y":5.2},{"x":77.5,"y":6.0},{"x":78.5,"y":4.5},{"x":79.5,"y":5.3},{"x":80.5,"y":6.3},{"x":81.5,"y":4.2},{"x":82.5,"y":5.1},{"x":83.5,"y":6.1},{"x":84.5,"y":4.6},{"x":85.5,"y":5.4},{"x":86.5,"y":6.2},{"x":87.5,"y":4.3},{"x":88.5,"y":5.2},{"x":89.5,"y":6.0},{"x":90.5,"y":4.5},{"x":91.5,"y":5.3},{"x":92.5,"y":6.3},{"x":93.5,"y":4.2},{"x":94.5,"y":5.1},{"x":95.5,"y":6.1},{"x":96.5,"y":4.6},{"x":97.5,"y":5.4},{"x":98.5,"y":6.2},{"x":99.5,"y":4.3},{"x":100.5,"y":5.2},{"x":101.5,"y":6.0},{"x":102.5,"y":4.5},{"x":103.5,"y":5.3},{"x":3.0,"y":18.8},{"x":36.7,"y":24.0},{"x":36.7,"y":19.3},{"x":38.3,"y":12.1},{"x":84.9,"y":17.7},{"x":83.1,"y":15.8},{"x":84.9,"y":15.8},{"x":84.9,"y":13.5},{"x":94.0,"y":14.1},{"x":102.8,"y":8.0},{"x":76.5,"y":10.5},{"x":81.3,"y":9.5},{"x":56.3,"y":11.3},{"x":50.0,"y":10.3},{"x":34.9,"y":10.5},{"x":36.7,"y":10.1},{"x":14.2,"y":9.9},{"x":26.5,"y":8.7},{"x":20.5,"y":8.3},{"x":66.6,"y":8.7},{"x":62.0,"y":7.7},{"x":35.8,"y":7.6},{"x":78.3,"y":7.8},{"x":3.0,"y":7.5},{"x":21.5,"y":7.5},{"x":44.0,"y":7.0},{"x":46.5,"y":7.0},{"x":53.0,"y":7.3}]
},
"title":{"text":"Coverage","orient":"left","anchor":"middle","offset":10,"dx":19},
"vconcat":[{
"title":{"text":"Chromosome position (Mb)","orient":"bottom","anchor":"middle","offset":14,"dx":-50},
"columns":3,
"spacing":{"row":18,"column":20},
"concat":[
{"spacing":0,"vconcat":[
{"width":322,"height":45,"data":{"name":"strips"},"transform":[{"filter":"datum.id == 'CP'"}],"mark":{"type":"text","fontSize":25,"dx":8,"color":"#1a1a1a"},"encoding":{"text":{"field":"name"}},"view":{"fill":"#f2f2f2","stroke":"#1a1a1a","strokeWidth":2}},
{"width":322,"height":258,
"encoding":{"x":{"field":"x","type":"quantitative","title":null,"scale":{"domain":[-5.4,110.4],"nice":false,"zero":false},"axis":{"values":[0,25,50,75,100]}},"y":{"field":"y","type":"quantitative","title":null,"scale":{"domain":[3.7,38],"nice":false,"zero":false},"axis":{"values":[10,20,30]}}},
"layer":[
{"data":{"name":"CP5"},"mark":{"type":"circle","size":130,"opacity":1},"encoding":{"color":{"datum":"Chr5","legend":{"title":null,"orient":"none","legendX":470,"legendY":-78,"direction":"horizontal"}}}},
{"data":{"name":"CPZ"},"mark":{"type":"circle","size":130,"opacity":1},"encoding":{"color":{"datum":"ChrZ","legend":{"title":null}}}}
]}
]},
{"spacing":0,"vconcat":[
{"width":322,"height":45,"data":{"name":"strips"},"transform":[{"filter":"datum.id == 'CK'"}],"mark":{"type":"text","fontSize":25,"dx":4,"color":"#1a1a1a"},"encoding":{"text":{"field":"name"}},"view":{"fill":"#f2f2f2","stroke":"#1a1a1a","strokeWidth":2}},
{"width":322,"height":258,
"encoding":{"x":{"field":"x","type":"quantitative","title":null,"scale":{"domain":[-5.6,110.4],"nice":false,"zero":false},"axis":{"values":[0,25,50,75,100]}},"y":{"field":"y","type":"quantitative","title":null,"scale":{"domain":[2.8,23.7],"nice":false,"zero":false},"axis":{"values":[5,10,15,20]}}},
"layer":[
{"data":{"name":"CK5"},"mark":{"type":"circle","size":130,"opacity":1},"encoding":{"color":{"datum":"Chr5","legend":{"title":null}}}},
{"data":{"name":"CKZ"},"mark":{"type":"circle","size":130,"opacity":1},"encoding":{"color":{"datum":"ChrZ","legend":{"title":null}}}}
]}
]},
{"spacing":0,"vconcat":[
{"width":322,"height":45,"data":{"name":"strips"},"transform":[{"filter":"datum.id == 'HA'"}],"mark":{"type":"text","fontSize":25,"dx":10,"color":"#1a1a1a"},"encoding":{"text":{"field":"name"}},"view":{"fill":"#f2f2f2","stroke":"#1a1a1a","strokeWidth":2}},
{"width":322,"height":258,
"encoding":{"x":{"field":"x","type":"quantitative","title":null,"scale":{"domain":[-5.3,110.4],"nice":false,"zero":false},"axis":{"values":[0,25,50,75,100]}},"y":{"field":"y","type":"quantitative","title":null,"scale":{"domain":[2.6,41.8],"nice":false,"zero":false},"axis":{"values":[10,20,30,40]}}},
"layer":[
{"data":{"name":"HA5"},"mark":{"type":"circle","size":130,"opacity":1},"encoding":{"color":{"datum":"Chr5","legend":{"title":null}}}},
{"data":{"name":"HAZ"},"mark":{"type":"circle","size":130,"opacity":1},"encoding":{"color":{"datum":"ChrZ","legend":{"title":null}}}}
]}
]},
{"spacing":0,"vconcat":[
{"width":322,"height":45,"data":{"name":"strips"},"transform":[{"filter":"datum.id == 'PR'"}],"mark":{"type":"text","fontSize":25,"dx":14,"color":"#1a1a1a"},"encoding":{"text":{"field":"name"}},"view":{"fill":"#f2f2f2","stroke":"#1a1a1a","strokeWidth":2}},
{"width":322,"height":258,
"encoding":{"x":{"field":"x","type":"quantitative","title":null,"scale":{"domain":[-5.4,110.4],"nice":false,"zero":false},"axis":{"values":[0,25,50,75,100]}},"y":{"field":"y","type":"quantitative","title":null,"scale":{"domain":[1.7,35.7],"nice":false,"zero":false},"axis":{"values":[10,20,30]}}},
"layer":[
{"data":{"name":"PR5"},"mark":{"type":"circle","size":130,"opacity":1},"encoding":{"color":{"datum":"Chr5","legend":{"title":null}}}},
{"data":{"name":"PRZ"},"mark":{"type":"circle","size":130,"opacity":1},"encoding":{"color":{"datum":"ChrZ","legend":{"title":null}}}}
]}
]},
{"spacing":0,"vconcat":[
{"width":322,"height":45,"data":{"name":"strips"},"transform":[{"filter":"datum.id == 'MC'"}],"mark":{"type":"text","fontSize":25,"dx":4,"color":"#1a1a1a"},"encoding":{"text":{"field":"name"}},"view":{"fill":"#f2f2f2","stroke":"#1a1a1a","strokeWidth":2}},
{"width":322,"height":258,
"encoding":{"x":{"field":"x","type":"quantitative","title":null,"scale":{"domain":[-5.6,110.4],"nice":false,"zero":false},"axis":{"values":[0,25,50,75,100]}},"y":{"field":"y","type":"quantitative","title":null,"scale":{"domain":[2.5,26.1],"nice":false,"zero":false},"axis":{"values":[5,10,15,20,25]}}},
"layer":[
{"data":{"name":"MC5"},"mark":{"type":"circle","size":130,"opacity":1},"encoding":{"color":{"datum":"Chr5","legend":{"title":null}}}},
{"data":{"name":"MCZ"},"mark":{"type":"circle","size":130,"opacity":1},"encoding":{"color":{"datum":"ChrZ","legend":{"title":null}}}}
]}
]}
]
}]
}
